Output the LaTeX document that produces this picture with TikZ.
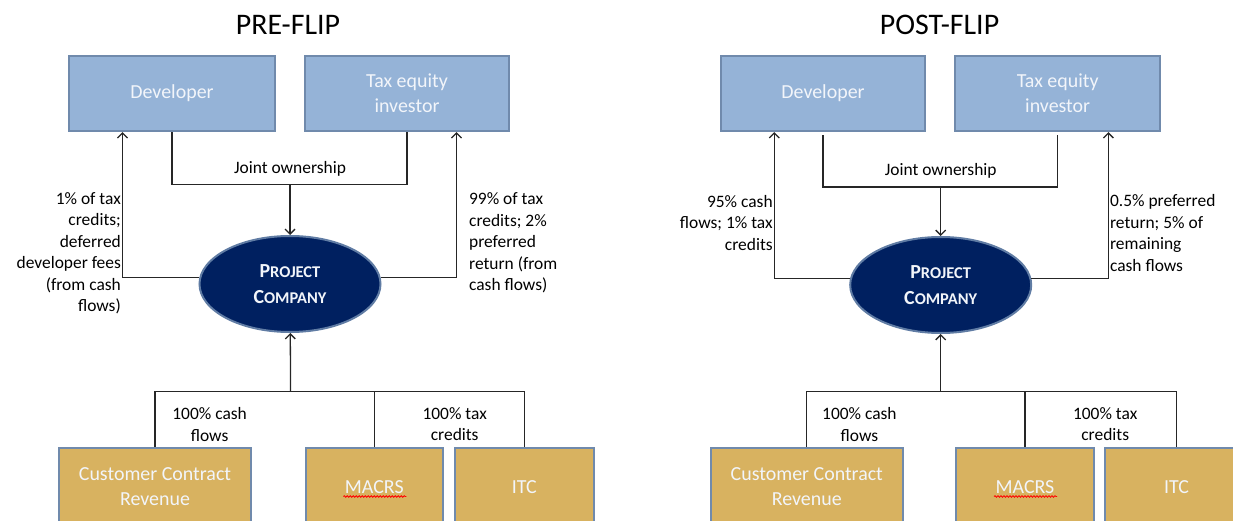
\documentclass[tikz,border=0pt]{standalone}
\usepackage{fontspec}
\setmainfont{Carlito}
\usepackage{tikz}
\usetikzlibrary{positioning,shapes.geometric,arrows.meta,decorations.pathmorphing}

\definecolor{partyfill}{RGB}{149,179,215}
\definecolor{partyedge}{RGB}{112,138,172}
\definecolor{goldfill}{RGB}{216,178,96}
\definecolor{navyfill}{RGB}{0,32,96}
\definecolor{navyedge}{RGB}{96,124,164}
\definecolor{paletext}{RGB}{242,245,250}
\newcommand\projco{{\fontsize{20}{26}\selectfont P}ROJECT\\{\fontsize{20}{26}\selectfont C}OMPANY}

\begin{document}
\begin{tikzpicture}[x=1bp,y=-1bp,>={Straight Barb[length=5bp,width=10bp]},
  party/.style={draw=partyedge,line width=2.2bp,fill=partyfill,text=paletext,minimum height=75bp,align=center,font=\fontsize{20}{25}\selectfont},
  source/.style={party,fill=goldfill,minimum height=78bp},
  company/.style={ellipse,draw=navyedge,line width=2bp,fill=navyfill,text=paletext,minimum width=181bp,minimum height=96bp,inner sep=0pt,align=center,font=\fontsize{16.5}{26}\selectfont\bfseries},
  flow/.style={line width=1.3bp,draw=black!85},
  lbl/.style={font=\fontsize{17.5}{21.6}\selectfont,inner sep=1bp},
  heading/.style={font=\fontsize{30}{36}\selectfont},
  squiggle/.style={draw=red,line width=0.8bp,decorate,decoration={snake,amplitude=0.8bp,segment length=3bp}}]
  \useasboundingbox (0,0) rectangle (1233,521);
  \clip (0,0) rectangle (1233,521);

  \node[heading]                          (hpre)     at (288,25)      {PRE-FLIP};
  \node[party,minimum width=206bp]        (devpre)   at (172,93.5)    {Developer};
  \node[party,minimum width=204bp]        (taxpre)   at (407,93.5)    {Tax equity\\investor};
  \node[company]                          (pcpre)    at (290,284)     {\projco};
  \node[source,minimum width=192bp]       (ccrpre)   at (155,487)     {Customer Contract\\Revenue};
  \node[source,minimum width=137bp]       (macrspre) at (374.3,487)   {MACRS};
  \node[source,minimum width=139bp]       (itcpre)   at (524.3,487)   {ITC};
  \coordinate (jpre) at (290,184.3);
  \coordinate (bpre) at (290.6,391.7);
  \node[lbl,above=7bp of jpre]            (jopre)    {Joint ownership};
  \node[lbl,align=center]                 (cashpre)  at (209.6,424.3) {100\% cash\\flows};
  \node[lbl,align=center]                 (credpre)  at (454.7,424.3) {100\% tax\\credits};

  \draw[flow] (devpre) |- (jpre) -| (taxpre);
  \draw[flow,->] (jpre) -- (pcpre);
  \draw[flow,->] (pcpre.176) -| node[lbl,pos=.584,anchor=east,align=right] {1\% of tax\\credits;\\deferred\\developer fees\\(from cash\\flows)} ([xshift=54.6bp]devpre.south west);
  \draw[flow,->] (pcpre.4) -| node[lbl,pos=.619,anchor=west,align=left,xshift=11bp] {99\% of tax\\credits; 2\%\\preferred\\return (from\\cash flows)} ([xshift=-53.6bp]taxpre.south east);
  \draw[flow] (ccrpre) |- (bpre) -| (itcpre);
  \draw[flow] (macrspre) |- (bpre);
  \draw[flow,->] (bpre) -- (pcpre);
  \draw[squiggle] ([xshift=-31bp,yshift=-9.5bp]macrspre.center) -- ++(63,0);

  \node[heading]                          (hpost)     at (939.5,25)     {POST-FLIP};
  \node[party,minimum width=204bp]        (devpost)   at (823,93.5)     {Developer};
  \node[party,minimum width=205bp]        (taxpost)   at (1057.7,93.5)  {Tax equity\\investor};
  \node[company]                          (pcpost)    at (940.7,285)    {\projco};
  \node[source,minimum width=192bp]       (ccrpost)   at (806.8,487)    {Customer Contract\\Revenue};
  \node[source,minimum width=138bp]       (macrspost) at (1025,487)     {MACRS};
  \node[source,minimum width=143bp]       (itcpost)   at (1176.5,487)   {ITC};
  \coordinate (jpost) at (940.7,187);
  \coordinate (bpost) at (940.7,391.7);
  \node[lbl,above=7bp of jpost]           (jopost)    {Joint ownership};
  \node[lbl,align=center]                 (cashpost)  at (859.4,424.3)  {100\% cash\\flows};
  \node[lbl,align=center]                 (credpost)  at (1105.2,424.3) {100\% tax\\credits};

  \draw[flow,shorten <=3bp,shorten >=3bp] (devpost) |- (jpost) -| (taxpost);
  \draw[flow,->] (jpost) -- (pcpost);
  \draw[flow,->] (pcpost.176) -| node[lbl,pos=.69,anchor=east,align=right] {95\% cash\\flows; 1\% tax\\credits} ([xshift=54.4bp]devpost.south west);
  \draw[flow,->] (pcpost.4) -| node[lbl,pos=.656,anchor=west,align=left] {0.5\% preferred\\return; 5\% of\\remaining\\cash flows} ([xshift=-52.9bp]taxpost.south east);
  \draw[flow] (ccrpost) |- (bpost) -| (itcpost);
  \draw[flow] (macrspost) |- (bpost);
  \draw[flow,->] (bpost) -- (pcpost);
  \draw[squiggle] ([xshift=-31bp,yshift=-9.5bp]macrspost.center) -- ++(63,0);
\end{tikzpicture}
\end{document}
